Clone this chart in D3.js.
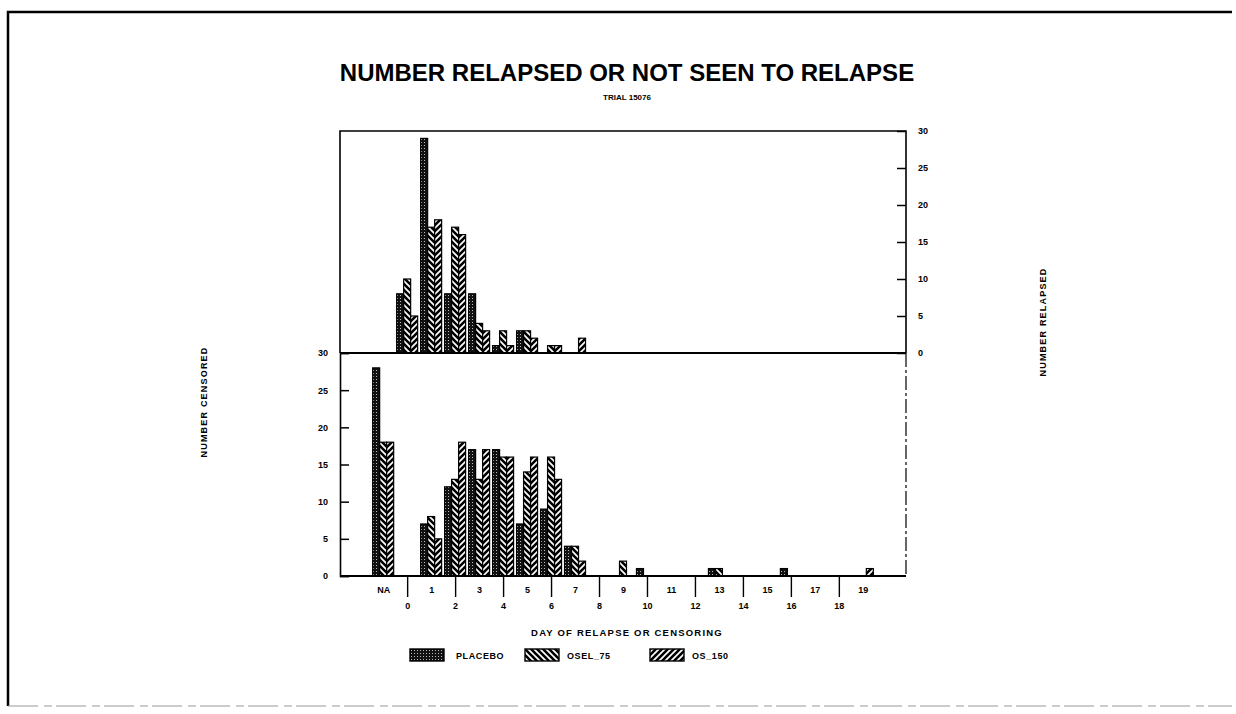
<!DOCTYPE html>
<html>
<head>
<meta charset="utf-8">
<script src="https://cdn.jsdelivr.net/npm/d3@7"></script>
<style>
  body { margin: 0; background: #fff; }
  text { font-family: "Liberation Sans", Arial, sans-serif; font-weight: bold; fill: #000; }
</style>
</head>
<body>
<div id="chart"></div>
<script>
// days on the x axis (NA = never seen)
var days = ["NA", "0", "1", "2", "3", "4", "5", "6", "7", "8", "9", "10",
            "11", "12", "13", "14", "15", "16", "17", "18", "19"];
var series = ["PLACEBO", "OSEL_75", "OS_150"];

// number relapsed (top panel)
var relPlacebo = [0, 8, 29, 8, 8, 1, 3, 0, 0, 0, 0, 0, 0, 0, 0, 0, 0, 0, 0, 0, 0];
var relOsel75  = [0, 10, 17, 17, 4, 3, 3, 1, 0, 0, 0, 0, 0, 0, 0, 0, 0, 0, 0, 0, 0];
var relOs150   = [0, 5, 18, 16, 3, 1, 2, 1, 2, 0, 0, 0, 0, 0, 0, 0, 0, 0, 0, 0, 0];

// number censored (bottom panel)
var cenPlacebo = [28, 0, 7, 12, 17, 17, 7, 9, 4, 0, 0, 1, 0, 0, 1, 0, 0, 1, 0, 0, 0];
var cenOsel75  = [18, 0, 8, 13, 13, 16, 14, 16, 4, 0, 2, 0, 0, 0, 1, 0, 0, 0, 0, 0, 0];
var cenOs150   = [18, 0, 5, 18, 17, 16, 16, 13, 2, 0, 0, 0, 0, 0, 0, 0, 0, 0, 0, 0, 1];

var yTicks = [0, 5, 10, 15, 20, 25, 30];

var W = 1236, H = 714;
var pLeft = 340, pRight = 906, pTop = 131, pMid = 353, pBottom = 576;

var svg = d3.select("#chart").append("svg")
  .attr("width", W).attr("height", H);

// patterns for the three groups
var defs = svg.append("defs");
var pPlac = defs.append("pattern").attr("id", "pat0")
  .attr("patternUnits", "userSpaceOnUse").attr("width", 3).attr("height", 3);
pPlac.append("rect").attr("width", 3).attr("height", 3).attr("fill", "#111");
pPlac.append("rect").attr("x", 1).attr("y", 1).attr("width", 1).attr("height", 1).attr("fill", "#bbb");

var pOsel = defs.append("pattern").attr("id", "pat1")
  .attr("patternUnits", "userSpaceOnUse").attr("width", 6).attr("height", 6);
pOsel.append("rect").attr("width", 6).attr("height", 6).attr("fill", "#fff");
pOsel.append("path").attr("d", "M-1,-1 L7,7 M-4,2 L2,8 M2,-4 L8,2")
  .attr("stroke", "#000").attr("stroke-width", 2.6);

var pOs = defs.append("pattern").attr("id", "pat2")
  .attr("patternUnits", "userSpaceOnUse").attr("width", 6).attr("height", 6);
pOs.append("rect").attr("width", 6).attr("height", 6).attr("fill", "#fff");
pOs.append("path").attr("d", "M-1,7 L7,-1 M-4,4 L2,-2 M2,10 L8,4")
  .attr("stroke", "#000").attr("stroke-width", 2.6);

var fills = ["url(#pat0)", "url(#pat1)", "url(#pat2)"];

// outer frame
svg.append("path").attr("d", "M8,706 L8,12 L1232,12")
  .attr("fill", "none").attr("stroke", "#000").attr("stroke-width", 2.5);
svg.append("line").attr("x1", 8).attr("x2", 1232).attr("y1", 706).attr("y2", 706)
  .attr("stroke", "#999").attr("stroke-width", 1).attr("stroke-dasharray", "30,6,8,4");

// title
svg.append("text").attr("x", 627).attr("y", 81).attr("text-anchor", "middle")
  .style("font-size", "24px").text("NUMBER RELAPSED OR NOT SEEN TO RELAPSE");
svg.append("text").attr("x", 627).attr("y", 100).attr("text-anchor", "middle")
  .style("font-size", "8px").text("TRIAL 15076");

// scales
var x = d3.scalePoint().domain(days).range([pLeft, pRight]).padding(1.8);
var xs = d3.scaleBand().domain(series).range([-10.5, 10.5]);
var yTop = d3.scaleLinear().domain([0, 30]).range([pMid, pTop]);
var yBot = d3.scaleLinear().domain([0, 30]).range([pBottom, pMid]);

function drawBars(panel, arrs, y) {
  var rows = [];
  days.forEach(function(d, i) {
    arrs.forEach(function(a, k) {
      if (a[i] > 0) rows.push({day: d, s: series[k], k: k, v: a[i]});
    });
  });
  panel.selectAll("rect").data(rows).enter().append("rect")
    .attr("x", function(d) { return x(d.day) + xs(d.s); })
    .attr("y", function(d) { return y(d.v); })
    .attr("width", xs.bandwidth())
    .attr("height", function(d) { return y(0) - y(d.v); })
    .attr("fill", function(d) { return fills[d.k]; })
    .attr("stroke", "#000").attr("stroke-width", 1.2);
}

drawBars(svg.append("g"), [relPlacebo, relOsel75, relOs150], yTop);
drawBars(svg.append("g"), [cenPlacebo, cenOsel75, cenOs150], yBot);

// top panel box and right edge
svg.append("path").attr("d", "M" + pLeft + "," + pMid + " L" + pLeft + "," + pTop + " L" + pRight + "," + pTop + " L" + pRight + "," + pMid)
  .attr("fill", "none").attr("stroke", "#000").attr("stroke-width", 1.6);
svg.append("line").attr("x1", pRight).attr("x2", pRight).attr("y1", pMid).attr("y2", pBottom)
  .attr("stroke", "#000").attr("stroke-width", 1.2).attr("stroke-dasharray", "14,3,3,3");
svg.append("line").attr("x1", pLeft).attr("x2", pRight).attr("y1", pMid).attr("y2", pMid)
  .attr("stroke", "#000").attr("stroke-width", 2.2);

// right axis (relapsed)
var ra = svg.append("g").attr("transform", "translate(" + pRight + ",0)")
  .call(d3.axisRight(yTop).tickValues(yTicks).tickSize(-9).tickPadding(12));
ra.select(".domain").remove();
ra.selectAll("line").attr("stroke-width", 1.5);
ra.selectAll("text").style("font-size", "9px").style("font-family", "Liberation Sans");

// left axis (censored)
var la = svg.append("g").attr("transform", "translate(" + pLeft + ",0)")
  .call(d3.axisLeft(yBot).tickValues(yTicks).tickSize(-9).tickPadding(12));
la.select(".domain").attr("stroke-width", 1.6);
la.selectAll("line").attr("stroke-width", 1.5);
la.selectAll("text").style("font-size", "9px").style("font-family", "Liberation Sans");

// bottom axis with staggered labels
var ba = svg.append("g").attr("transform", "translate(0," + pBottom + ")")
  .call(d3.axisBottom(x).tickSize(0).tickPadding(10));
ba.select(".domain").attr("d", "M" + pLeft + ",0H" + pRight).attr("stroke-width", 2);
ba.selectAll(".tick").each(function(d, i) {
  var t = d3.select(this);
  t.select("text").style("font-size", "9px").style("font-family", "Liberation Sans");
  if (i % 2 === 1) {
    t.select("line").attr("y2", 21).attr("stroke-width", 1.4);
    t.select("text").attr("y", 27);
  } else {
    t.select("text").attr("y", 11);
  }
});

// axis titles
svg.append("text").attr("transform", "translate(207,402) rotate(-90)")
  .attr("text-anchor", "middle").style("font-size", "9px").style("letter-spacing", "1.2px")
  .text("NUMBER CENSORED");
svg.append("text").attr("transform", "translate(1046,322) rotate(-90)")
  .attr("text-anchor", "middle").style("font-size", "9px").style("letter-spacing", "1.2px")
  .text("NUMBER RELAPSED");
svg.append("text").attr("x", 627).attr("y", 636).attr("text-anchor", "middle")
  .style("font-size", "9.5px").style("letter-spacing", "1.2px").text("DAY OF RELAPSE OR CENSORING");

// legend
var legX = [410, 525, 650];
var leg = svg.append("g").selectAll("g").data(series).enter().append("g")
  .attr("transform", function(d, i) { return "translate(" + legX[i] + ",649)"; });
leg.append("rect").attr("width", 34).attr("height", 12)
  .attr("fill", function(d, i) { return fills[i]; })
  .attr("stroke", "#000").attr("stroke-width", 1.4);
leg.append("text").attr("x", function(d, i) { return i === 0 ? 46 : 42; }).attr("y", 10)
  .style("font-size", "9px").style("letter-spacing", "0.6px").text(function(d) { return d; });
</script>
</body>
</html>
